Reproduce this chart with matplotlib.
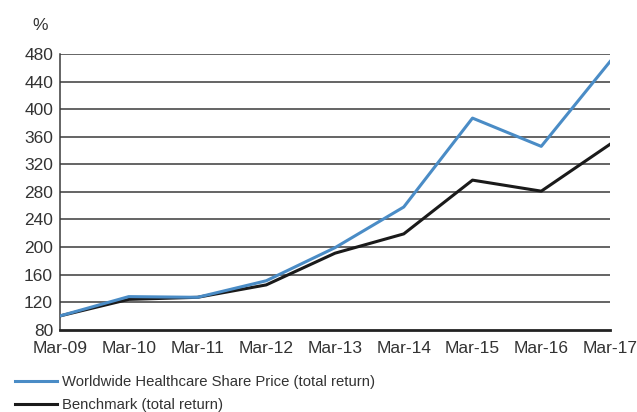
import matplotlib.pyplot as plt
from matplotlib.lines import Line2D

plt.rcParams['font.family'] = ['Liberation Sans', 'DejaVu Sans']

# data
years = ['Mar-09', 'Mar-10', 'Mar-11', 'Mar-12', 'Mar-13', 'Mar-14', 'Mar-15', 'Mar-16', 'Mar-17']
share_price = [100, 128, 127, 151, 199, 258, 387, 346, 469]
benchmark = [100, 124, 127, 145, 191, 219, 297, 281, 349]
yticks = [80, 120, 160, 200, 240, 280, 320, 360, 400, 440, 480]

blue = '#4a8cc6'
txt = '#333333'

fig = plt.figure(figsize=(6.37, 4.12), dpi=100)
ax = fig.add_axes([60/637, 1 - 329.7/412, 550/637, (329.7 - 54)/412])

x = range(len(years))
ax.plot(x, benchmark, color='#1a1a1a', lw=2.2, zorder=3)
ax.plot(x, share_price, color=blue, lw=2.2, zorder=4)

ax.set_xlim(0, len(years) - 1)
ax.set_ylim(80, 480)
ax.set_yticks(yticks)
ax.set_xticks(list(x))
ax.set_xticklabels(years)
for y in yticks[1:]:
    ax.axhline(y, color='#3a3a3a', lw=1.1, zorder=1)

for s in ['top', 'right']:
    ax.spines[s].set_visible(False)
ax.spines['left'].set_color('#3a3a3a')
ax.spines['left'].set_linewidth(1.1)
ax.spines['bottom'].set_color('#222222')
ax.spines['bottom'].set_linewidth(2)
ax.tick_params(length=0, labelsize=12.5, colors=txt, pad=5)
ax.tick_params(axis='x', pad=8)

fig.text(40/637, 1 - 26/412, '%', fontsize=12.5, color=txt, ha='center', va='center')

handles = [Line2D([], [], color=blue, lw=2.2), Line2D([], [], color='#1a1a1a', lw=2.2)]
fig.legend(handles, ['Worldwide Healthcare Share Price (total return)', 'Benchmark (total return)'],
           loc='upper left', bbox_to_anchor=(15/637, 1 - 375/412), frameon=False,
           fontsize=10.7, labelcolor=txt, handlelength=2.8, handletextpad=0.33,
           labelspacing=0.62, borderpad=0, borderaxespad=0)

fig.savefig('out.png', dpi=100)
